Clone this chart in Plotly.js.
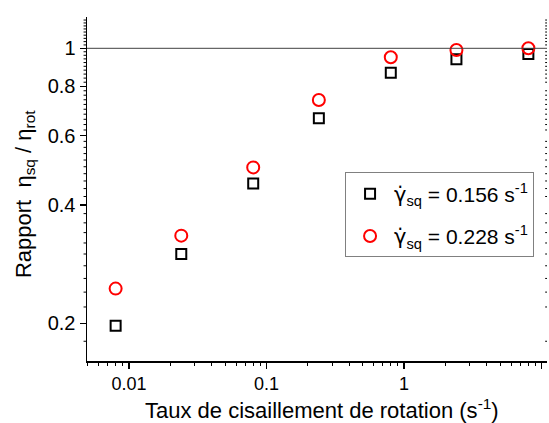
<!DOCTYPE html>
<html>
<head>
<meta charset="utf-8">
<script src="https://cdn.plot.ly/plotly-3.0.1.min.js"></script>
<style>html,body{margin:0;padding:0;background:#fff;}#chart{width:549px;height:423px;}</style>
</head>
<body>
<div id="chart"></div>
<script>
const shearRate = [0.008, 0.024, 0.08, 0.24, 0.8, 2.4, 8];
const ratioSq156 = [0.197, 0.300, 0.453, 0.664, 0.867, 0.938, 0.967];
const ratioSq228 = [0.245, 0.334, 0.498, 0.739, 0.949, 0.990, 1.000];
const gammaDot = '<span style="font-family:DejaVu Sans">\u03B3\u0307</span>';
const seriesNames = [gammaDot + '<sub>sq</sub> = 0.156 s<sup>-1</sup>', gammaDot + '<sub>sq</sub> = 0.228 s<sup>-1</sup>'];
const xTitle = 'Taux de cisaillement de rotation (s<sup>-1</sup>)';
const yTitle = 'Rapport  η<sub>sq</sub> / η<sub>rot</sub>';
const yTickVals = [0.2, 0.4, 0.6, 0.8, 1];
const yTickText = ['0.2', '0.4', '0.6', '0.8', '1'];
const xTickVals = [0.01, 0.1, 1, 10];
const xTickText = ['0.01', '0.1', '1', '10'];
const yMinorTicks = [];
for (let i = 9; i <= 59; i++) { if (i % 10 !== 0) yMinorTicks.push(+(i * 0.02).toFixed(2)); }

const FONT = 'Liberation Sans, Arial, sans-serif';
const xRange = [-2.305, 1.0385];
const yRange = [-0.7949, 0.0796];

const traces = [
  {x: shearRate, y: ratioSq156, name: seriesNames[0], type: 'scatter', mode: 'markers', legendgroup: 'a',
   marker: {symbol: 'square-open', size: 10, color: '#000', line: {width: 2, color: '#000'}}},
  {x: shearRate, y: ratioSq228, name: seriesNames[1], type: 'scatter', mode: 'markers', legendgroup: 'b',
   marker: {symbol: 'circle-open', size: 12, color: '#ff0000', line: {width: 2, color: '#ff0000'}}}
];

// minor ticks on the left (outside) and right (inside) axes, placed through the y scale
const minorShapes = [];
yMinorTicks.forEach(v => {
  minorShapes.push({type: 'line', xref: 'paper', yref: 'y', x0: -0.0075, x1: 0, y0: v, y1: v,
    line: {color: '#000', width: 1}});
  minorShapes.push({type: 'line', xref: 'paper', yref: 'y', x0: 0.996, x1: 1, y0: v, y1: v,
    line: {color: '#000', width: 1}});
});

const layout = {
  width: 549, height: 423,
  margin: {l: 87, r: 2, t: 17, b: 62},
  paper_bgcolor: '#fff', plot_bgcolor: '#fff',
  font: {family: FONT, color: '#000', size: 18},
  showlegend: true,
  legend: {x: 0.561, y: 0.548, xanchor: 'left', yanchor: 'top',
    bgcolor: '#fff', bordercolor: '#808080', borderwidth: 1, itemwidth: 38,
    font: {family: FONT, size: 21, color: '#000'}, traceorder: 'grouped', tracegroupgap: 12},
  xaxis: {type: 'log', range: xRange, showgrid: false, zeroline: false,
    showline: true, linecolor: '#000', linewidth: 1.5,
    ticks: 'outside', ticklen: 6, tickwidth: 1.5, tickcolor: '#000',
    tickvals: xTickVals, ticktext: xTickText, tickfont: {size: 18},
    minor: {ticks: 'outside', ticklen: 3, tickwidth: 1, tickcolor: '#000', dtick: 'D1', showgrid: false}},
  yaxis: {type: 'log', range: yRange, showgrid: false, zeroline: false,
    showline: true, linecolor: '#000', linewidth: 1.5,
    ticks: 'outside', ticklen: 6, tickwidth: 1.5, tickcolor: '#000',
    tickvals: yTickVals, ticktext: yTickText, tickfont: {size: 20}},
  xaxis2: {type: 'log', range: xRange, overlaying: 'x', side: 'top', anchor: 'y',
    showgrid: false, zeroline: false, showline: true, linecolor: '#000', linewidth: 1.5,
    ticks: 'inside', ticklen: 6, tickwidth: 1.5, tickcolor: '#000', tickvals: xTickVals,
    showticklabels: false,
    minor: {ticks: 'inside', ticklen: 3, tickwidth: 1, tickcolor: '#000', dtick: 'D1', showgrid: false}},
  yaxis2: {type: 'log', range: yRange, overlaying: 'y', side: 'right', anchor: 'x',
    showgrid: false, zeroline: false, showline: true, linecolor: '#000', linewidth: 1,
    ticks: 'inside', ticklen: 6, tickwidth: 1.5, tickcolor: '#000', tickvals: yTickVals,
    showticklabels: false},
  annotations: [
    {text: xTitle, xref: 'paper', yref: 'paper', x: 0.511, y: -0.14, xanchor: 'center', yanchor: 'middle',
     showarrow: false, font: {family: FONT, size: 22, color: '#000'}},
    {text: yTitle, xref: 'paper', yref: 'paper', x: -0.135, y: 0.485, xanchor: 'center', yanchor: 'middle',
     textangle: -90, showarrow: false, font: {family: FONT, size: 22, color: '#000'}}
  ],
  shapes: [{type: 'line', xref: 'paper', yref: 'y', x0: 0, x1: 1, y0: 1, y1: 1,
    line: {color: '#404040', width: 1}}].concat(minorShapes)
};

Plotly.newPlot('chart', traces, layout, {staticPlot: true, displayModeBar: false});
</script>
</body>
</html>
